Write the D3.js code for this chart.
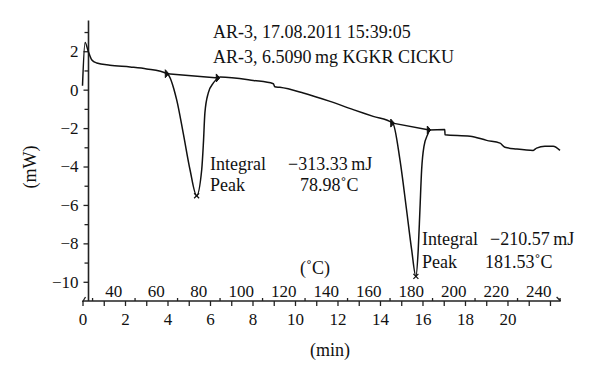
<!DOCTYPE html>
<meta charset="utf-8">
<script src="https://d3js.org/d3.v7.min.js"></script>
<style>
  body { margin: 0; background: #fff; }
  text { font-family: "Liberation Serif", "DejaVu Serif", serif; fill: #111; }
</style>
<div id="my_dataviz"></div>
<script>

// DSC trace: time (min) and heat flow (mW)
var curveTime = [0, 0.12, 0.27, 0.43, 0.67, 1.29, 2.24, 3.02, 3.99,
  4.43, 4.74, 5.06, 5.37, 5.61, 5.69, 5.76, 5.92, 6.16, 6.39,
  6.48, 8.04, 8.98, 9.05, 9.29, 10.39, 11.65, 12.74, 13.68, 14.6,
  14.94, 15.25, 15.49, 15.69, 15.8, 15.88, 15.96, 16.07, 16.27, 16.32,
  17.05, 17.06, 18.24, 19.02, 19.65, 19.88, 20.43, 21.21, 21.37, 21.76, 22.15, 22.47];
var curveMW = [0.2, 2.45, 2.0, 1.56, 1.39, 1.27, 1.18, 1.08, 0.83,
  -0.52, -2.26, -4.17, -5.52, -4.17, -2.78, -1.21, -0.17, 0.35, 0.61,
  0.66, 0.48, 0.31, 0.15, 0.12, -0.17, -0.61, -1.04, -1.39, -1.74,
  -3.65, -6.25, -8.33, -9.72, -8.33, -6.25, -4.17, -2.95, -2.26, -2.1,
  -2.07, -2.35, -2.42, -2.64, -2.78, -3.0, -3.09, -3.16, -3.04, -2.95, -2.95, -3.16];

// integration baselines: onset and end of each peak
var onsetTime = [3.99, 14.6];
var onsetMW = [0.83, -1.74];
var endTime = [6.39, 16.32];
var endMW = [0.61, -2.1];
var peakTime = [5.37, 15.69];
var peakMW = [-5.52, -9.72];

var integralText = ["\u2212313.33\u2009mJ", "\u2212210.57\u2009mJ"];
var peakText = ["78.98\u02daC", "181.53\u02daC"];
var headerText = ["AR-3, 17.08.2011 15:39:05", "AR-3, 6.5090\u2009mg KGKR CICKU"];

var timeTicks = d3.range(0, 23, 1);
var timeLabels = d3.range(0, 21, 2);
var tempLabels = d3.range(40, 241, 20);
var tempMinor = d3.range(30, 251, 20);
var mwTicks = [-10, -8, -6, -4, -2, 0, 2];
var mwMinor = [-9, -7, -5, -3, -1, 1, 3];

// heating: 10 K/min from about 25.5 C
var startTemp = 25.5, rate = 10;

var width = 600, height = 378;
var svg = d3.select("#my_dataviz").append("svg")
    .attr("width", width).attr("height", height);

var x = d3.scaleLinear().domain([0, 22.5]).range([82.5, 560.6]);
var xT = d3.scaleLinear()
    .domain([startTemp, startTemp + rate * 22.5]).range(x.range());
var y = d3.scaleLinear().domain([-11, 3.6]).range([301, 20.5]);
var yAxisX = 88.5;
var fs = "17px";
var fa = "18px";

function styleAxis(g) {
  g.select(".domain").remove();
  g.selectAll("line").attr("stroke", "#222").attr("stroke-width", 1.3);
  g.selectAll("text").style("font-size", fs).attr("fill", "#111")
    .style("font-family", "'Liberation Serif', serif");
}

// y axis
svg.append("g").attr("transform", "translate(" + yAxisX + ",0)")
  .call(d3.axisLeft(y).tickValues(mwTicks).tickSize(5).tickPadding(5)
      .tickFormat(function(d) { return d < 0 ? "\u2212" + Math.abs(d) : d; }))
  .call(styleAxis);
svg.append("g").attr("transform", "translate(" + yAxisX + ",0)")
  .call(d3.axisLeft(y).tickValues(mwMinor).tickSize(4).tickFormat(""))
  .call(styleAxis);
svg.append("line")
  .attr("x1", yAxisX).attr("x2", yAxisX)
  .attr("y1", y(3.6)).attr("y2", y(-11))
  .attr("stroke", "#222").attr("stroke-width", 1.6);

// x axes: time below, temperature above
svg.append("g").attr("transform", "translate(0," + y(-11) + ")")
  .call(d3.axisBottom(x).tickValues(timeTicks).tickSize(5).tickPadding(7)
      .tickFormat(function(d) { return timeLabels.indexOf(d) >= 0 ? d : ""; }))
  .call(styleAxis);
svg.append("g").attr("transform", "translate(0," + y(-11) + ")")
  .call(d3.axisTop(xT).tickValues(tempMinor).tickSize(3).tickFormat(""))
  .call(styleAxis);
svg.append("g").attr("transform", "translate(0," + y(-11) + ")")
  .call(d3.axisTop(xT).tickValues(tempLabels).tickSize(0).tickPadding(4))
  .call(styleAxis);
svg.append("line")
  .attr("x1", x(0)).attr("x2", x(22.5))
  .attr("y1", y(-11)).attr("y2", y(-11))
  .attr("stroke", "#222").attr("stroke-width", 1.6);
// small half arrowheads at both ends
svg.append("path")
  .attr("d", "M" + (x(22.5) - 4) + "," + (y(-11) - 4) + "L" + x(22.5) + "," + y(-11))
  .attr("stroke", "#222").attr("stroke-width", 1.3).attr("fill", "none");
svg.append("path")
  .attr("d", "M" + x(0) + "," + (y(-11) + 1) + "L" + (x(0) + 3) + "," + (y(-11) - 4))
  .attr("stroke", "#222").attr("stroke-width", 1.3).attr("fill", "none");

// curve
var pts = curveTime.map(function(t, i) { return [t, curveMW[i]]; });
var line = d3.line()
    .x(function(d) { return x(d[0]); })
    .y(function(d) { return y(d[1]); })
    .curve(d3.curveMonotoneX);
svg.append("path").datum(pts)
  .attr("d", line)
  .attr("fill", "none").attr("stroke", "#111").attr("stroke-width", 1.5);

// integration baselines and markers
onsetTime.forEach(function(t, i) {
  svg.append("line")
    .attr("x1", x(t)).attr("y1", y(onsetMW[i]))
    .attr("x2", x(endTime[i])).attr("y2", y(endMW[i]))
    .attr("stroke", "#111").attr("stroke-width", 1.4);
  [[t, onsetMW[i]], [endTime[i], endMW[i]]].forEach(function(p) {
    var px = x(p[0]), py = y(p[1]);
    svg.append("path")
      .attr("d", "M" + (px - 2) + "," + (py - 4) + "L" + (px + 1.5) + "," + py +
                 "L" + (px - 2) + "," + (py + 4) + "Z")
      .attr("fill", "#111").attr("stroke", "#111").attr("stroke-width", 1);
  });
  var qx = x(peakTime[i]), qy = y(peakMW[i]);
  svg.append("path")
    .attr("d", "M" + (qx - 2.5) + "," + (qy - 2.5) + "L" + (qx + 2.5) + "," + (qy + 2.5) +
               "M" + (qx + 2.5) + "," + (qy - 2.5) + "L" + (qx - 2.5) + "," + (qy + 2.5))
    .attr("stroke", "#111").attr("stroke-width", 1.2);
});

// annotations
var ann = [
  {lx: 210, vx: 288, px: 300, y1: 170, y2: 191},
  {lx: 422, vx: 490, px: 485, y1: 245, y2: 268}
];
ann.forEach(function(a, i) {
  svg.append("text").attr("x", a.lx).attr("y", a.y1).text("Integral").style("font-size", fa);
  svg.append("text").attr("x", a.vx).attr("y", a.y1).text(integralText[i]).style("font-size", fa);
  svg.append("text").attr("x", a.lx).attr("y", a.y2).text("Peak").style("font-size", fa);
  svg.append("text").attr("x", a.px).attr("y", a.y2).text(peakText[i]).style("font-size", fa);
});
svg.append("text").attr("x", 213).attr("y", 38).text(headerText[0]).style("font-size", fa);
svg.append("text").attr("x", 213).attr("y", 63).text(headerText[1]).style("font-size", fa);

// axis titles
svg.append("text").attr("x", 315).attr("y", 274).attr("text-anchor", "middle")
  .text("(\u02daC)").style("font-size", fa);
svg.append("text").attr("x", 330).attr("y", 356).attr("text-anchor", "middle")
  .text("(min)").style("font-size", fa);
svg.append("text").attr("transform", "translate(36,167) rotate(-90)")
  .attr("text-anchor", "middle").text("(mW)").style("font-size", fa);

</script>
